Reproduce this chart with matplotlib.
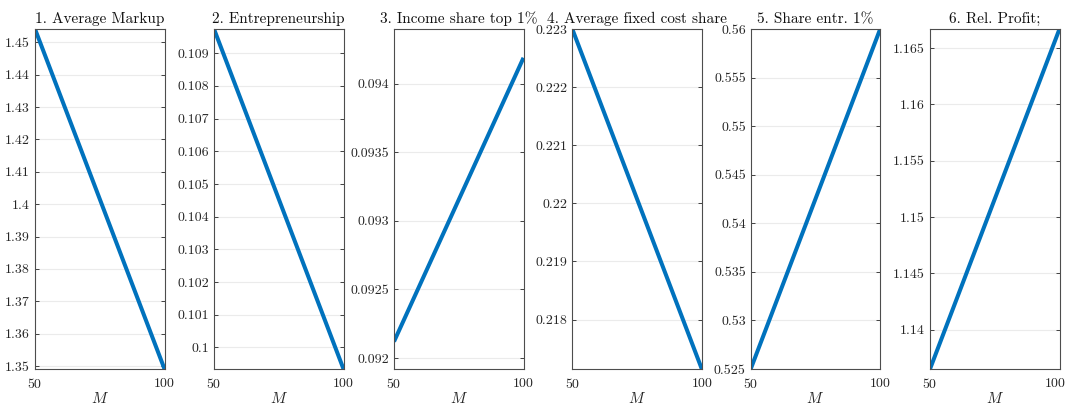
import matplotlib
matplotlib.use("Agg")
import matplotlib.pyplot as plt
import matplotlib.transforms as mtransforms
from matplotlib.ticker import MultipleLocator, FuncFormatter, FixedLocator

plt.rcParams['font.family'] = ['cmr10', 'DejaVu Serif']
plt.rcParams['mathtext.fontset'] = 'cm'
plt.rcParams['axes.formatter.use_mathtext'] = True

# Data
M = [50, 100]
titles = ["1. Average Markup", "2. Entrepreneurship", "3. Income share top 1%",
          "4. Average fixed cost share", "5. Share entr. 1%", "6. Rel. Profit;"]
avg_markup = [1.4541, 1.3491]
entrepreneurship = [0.10974, 0.09934]
income_top1 = [0.09212, 0.09419]
fixed_cost_share = [0.2230, 0.21715]
share_entr_top1 = [0.525, 0.560]
rel_profit = [1.1365, 1.1667]
series = [avg_markup, entrepreneurship, income_top1, fixed_cost_share, share_entr_top1, rel_profit]
tick_steps = [0.01, 0.001, 0.0005, 0.001, 0.005, 0.005]
ylims = [None, None, (0.09192, 0.09440), None, None, None]

W, H = 1068, 408
fig = plt.figure(figsize=(W / 100, H / 100), dpi=100)
lefts = [35, 214, 394, 572.3, 750.7, 930]
width = 129.5
top_px, bot_px = 29, 369

fmt = FuncFormatter(lambda v, p: f"{round(v, 8):g}")

axes = []
for i in range(6):
    ax = fig.add_axes([lefts[i] / W, 1 - bot_px / H, width / W, (bot_px - top_px) / H])
    ax.plot(M, series[i], color='#0072BD', linewidth=2.9, solid_capstyle='butt')
    ax.set_xlim(M[0], M[-1])
    if ylims[i] is None:
        ax.set_ylim(min(series[i]), max(series[i]))
    else:
        ax.set_ylim(*ylims[i])
    ax.xaxis.set_major_locator(FixedLocator(M))
    ax.yaxis.set_major_locator(MultipleLocator(tick_steps[i]))
    ax.yaxis.set_major_formatter(fmt)
    ax.grid(axis='y', color='#ebebeb', linewidth=0.8)
    ax.set_axisbelow(True)
    ax.tick_params(direction='in', length=3, width=0.6, colors='#262626',
                   labelsize=10, right=True, top=False, labelcolor='#262626')
    ax.tick_params(axis='x', pad=6)
    for s in ax.spines.values():
        s.set_color('#4d4d4d')
        s.set_linewidth(0.8)
    ax.set_title(titles[i], fontsize=11, color='#111111', pad=4)
    ax.set_xlabel('$M$', fontsize=11, color='#262626', labelpad=0)
    axes.append(ax)

# nudge the last x tick label of the final panel so it stays inside the figure
fig.canvas.draw()
last_lbl = axes[-1].get_xticklabels()[-1]
last_lbl.set_transform(last_lbl.get_transform() +
                       mtransforms.ScaledTranslation(-4 / 100, 0, fig.dpi_scale_trans))

fig.savefig("out.png", dpi=100)
